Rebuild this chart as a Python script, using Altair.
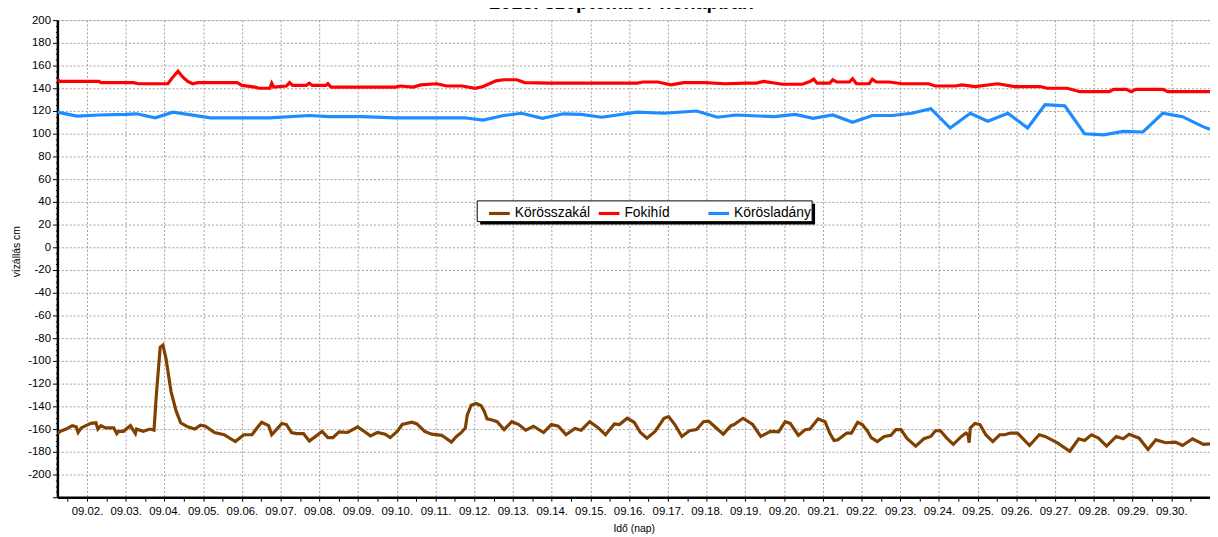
import json
import altair as alt
import pandas as pd

title_text = "2013. szeptember hónapban"
series_names = ["Körösszakál", "Fokihíd", "Körösladány"]
series_colors = ["#804000", "#ff0000", "#1e8cff"]

day_labels = ["09.02.", "09.03.", "09.04.", "09.05.", "09.06.", "09.07.", "09.08.",
              "09.09.", "09.10.", "09.11.", "09.12.", "09.13.", "09.14.", "09.15.",
              "09.16.", "09.17.", "09.18.", "09.19.", "09.20.", "09.21.", "09.22.",
              "09.23.", "09.24.", "09.25.", "09.26.", "09.27.", "09.28.", "09.29.",
              "09.30."]

# time in days of September (2.0 = 09.02. 00:00)
koros_t = [1.24, 1.31, 1.46, 1.62, 1.72, 1.77, 1.85, 1.97, 2.10, 2.23,
           2.28, 2.36, 2.48, 2.69, 2.77, 2.82, 2.94, 3.12, 3.25, 3.28,
           3.45, 3.63, 3.73, 3.79, 3.89, 3.96, 4.04, 4.17, 4.30, 4.42,
           4.60, 4.78, 4.93, 5.06, 5.29, 5.54, 5.83, 6.05, 6.26, 6.39,
           6.51, 6.69, 6.77, 6.85, 7.03, 7.15, 7.28, 7.41, 7.59, 7.74,
           7.92, 8.07, 8.22, 8.35, 8.51, 8.73, 8.99, 9.32, 9.50, 9.70,
           9.83, 10.01, 10.14, 10.39, 10.52, 10.72, 10.90, 11.16, 11.41, 11.54,
           11.67, 11.77, 11.82, 11.92, 12.05, 12.18, 12.26, 12.33, 12.46, 12.59,
           12.77, 12.97, 13.15, 13.33, 13.53, 13.79, 13.99, 14.17, 14.37, 14.60,
           14.76, 14.98, 15.19, 15.39, 15.62, 15.75, 15.95, 16.13, 16.29, 16.46,
           16.67, 16.90, 17.02, 17.18, 17.36, 17.56, 17.74, 17.92, 18.05, 18.20,
           18.43, 18.63, 18.71, 18.94, 19.19, 19.40, 19.65, 19.86, 20.03, 20.16,
           20.37, 20.55, 20.67, 20.88, 21.06, 21.18, 21.29, 21.39, 21.62, 21.74,
           21.90, 22.02, 22.15, 22.25, 22.41, 22.59, 22.76, 22.89, 23.02, 23.17,
           23.40, 23.61, 23.79, 23.91, 24.04, 24.19, 24.37, 24.58, 24.70, 24.75,
           24.78, 24.81, 24.93, 25.06, 25.21, 25.39, 25.57, 25.70, 25.85, 26.03,
           26.34, 26.59, 26.74, 27.05, 27.38, 27.61, 27.76, 27.94, 28.12, 28.33,
           28.58, 28.76, 28.91, 29.17, 29.40, 29.60, 29.86, 30.11, 30.29, 30.55,
           30.83, 31.00]
koros_v = [-164, -162, -160, -157, -158, -163, -159, -157, -155, -154.5,
           -160, -157, -159, -159, -164, -162, -162, -157, -164, -160,
           -162, -160, -161, -130, -88, -86, -98, -127, -144, -154.5,
           -158, -160, -156.5, -157.5, -163, -165, -171, -165, -165, -159,
           -154, -157, -165, -162, -155, -156, -163, -164, -164, -170.5,
           -166, -162, -167.5, -167.5, -162.5, -163, -158, -166, -163, -164.5,
           -167.5, -162, -156, -154, -155.5, -162, -164.5, -165.5, -171.5, -166.5,
           -163, -159, -147.5, -139, -137.5, -139.5, -144.5, -151, -152, -153.5,
           -160.5, -153.5, -156, -161, -157.5, -163, -156, -157.5, -165, -159.5,
           -161, -153.5, -158.5, -165, -155.5, -156, -150.5, -154, -163, -168,
           -162, -150.5, -149, -156, -166.5, -161.5, -160.5, -153.5, -153, -157.5,
           -164.5, -157, -156, -150.5, -156, -166.5, -162, -162.5, -153.5, -155,
           -165.5, -160.5, -160, -151, -153.5, -163.5, -170, -169.5, -163.5, -163.5,
           -154, -156, -161.5, -167.5, -171, -166.5, -165.5, -160.5, -160.5, -168,
           -175, -168.5, -166.5, -161.5, -161.5, -167.5, -173.5, -166.5, -163.5, -165,
           -172, -159, -155, -156, -165, -171, -165, -165, -163.5, -163.5,
           -174.5, -165, -166.5, -172, -179.5, -168.5, -170, -165, -168, -175,
           -166.5, -168.5, -164.5, -168, -178, -169.5, -172, -171.5, -174.5, -168.5,
           -173.5, -173]

foki_t = [1.235, 1.29, 2.31, 2.36, 3.20, 3.33, 4.09, 4.22, 4.35, 4.47,
          4.60, 4.73, 4.86, 5.88, 6.00, 6.34, 6.44, 6.72, 6.77, 6.82,
          7.15, 7.23, 7.31, 7.66, 7.74, 7.82, 8.17, 8.22, 8.30, 9.96,
          10.09, 10.42, 10.62, 11.03, 11.29, 11.69, 12.02, 12.23, 12.56, 12.76,
          13.10, 13.30, 13.96, 16.21, 16.36, 16.74, 17.08, 17.41, 17.94, 18.48,
          19.01, 19.29, 19.47, 19.96, 20.47, 20.67, 20.77, 20.85, 21.18, 21.26,
          21.36, 21.69, 21.77, 21.87, 22.20, 22.28, 22.38, 22.71, 23.05, 23.73,
          23.91, 24.42, 24.60, 24.93, 25.52, 25.95, 26.62, 26.79, 27.31, 27.64,
          28.40, 28.51, 28.84, 28.96, 29.09, 29.78, 29.91, 31.00]
foki_v = [148, 146, 146, 145, 145, 144, 144, 150, 155, 150,
          146, 144, 145, 145, 142.5, 141, 140, 140, 144.5, 141,
          142, 145, 142.5, 142.5, 144.5, 142.5, 142.5, 144, 141, 141,
          142, 141, 143, 144, 142, 142, 140, 141.5, 146.5, 147.5,
          147.5, 145, 144.5, 144.5, 145.5, 145.5, 143, 145, 145, 144,
          144.5, 144.5, 146, 143.5, 143.5, 146, 148, 144.5, 144.5, 147.5,
          145.5, 145.5, 148.5, 144, 144, 148, 145.5, 145.5, 144, 144,
          142, 142, 143, 141.5, 144, 141.5, 141.5, 140, 140, 137,
          137, 139, 139, 137, 139, 139, 137, 137]

lad_t = [1.235, 1.74, 2.31, 3.00, 3.28, 3.76, 4.22, 5.19, 6.72, 7.74,
         8.25, 9.12, 9.96, 11.74, 12.23, 12.76, 13.22, 13.76, 14.30, 14.76,
         15.29, 16.21, 16.90, 17.74, 18.28, 18.76, 19.75, 20.29, 20.75, 21.26,
         21.77, 22.28, 22.79, 23.30, 23.79, 24.29, 24.81, 25.26, 25.78, 26.29,
         26.74, 27.25, 27.76, 28.25, 28.76, 29.27, 29.78, 30.29, 30.83, 31.00]
lad_v = [119, 115.5, 116.5, 117, 117.5, 114, 119, 114, 114, 116,
         115, 115, 114, 114, 112, 116, 118, 113.5, 117.5, 117,
         114.5, 119, 118, 120, 114.5, 116.5, 115, 117, 113.5, 116.5,
         110, 116, 116, 118, 122, 105, 118, 111, 118, 105,
         125.5, 124.5, 100, 99, 102, 101.5, 118, 115, 106, 104]

frames = []
for name, ts, vs in zip(series_names, [koros_t, foki_t, lad_t], [koros_v, foki_v, lad_v]):
    frames.append(pd.DataFrame({"t": ts, "v": vs, "series": name}))
df = pd.concat(frames, ignore_index=True)

X_MIN, X_MAX = 1.235, 31.0
Y_MIN, Y_MAX = -220, 200
x_ticks = [i / 2 for i in range(3, 62)]
y_ticks = list(range(-220, 201, 5))
FONT = "Liberation Sans"

x_axis = alt.Axis(
    values=x_ticks,
    labelExpr="datum.value % 1 == 0 ? " + json.dumps(day_labels) + "[datum.value - 2] : ''",
    labelFontSize=11.5, labelColor="black", labelFont=FONT, labelPadding=4,
    tickSize=4, tickColor="black", domainColor="black", domainWidth=2.5,
    grid=True,
    gridColor={"condition": {"test": "datum.value % 1 == 0", "value": "#a0a0a0"},
               "value": "rgba(0,0,0,0)"},
    gridDash=[2, 2], gridWidth=1,
    title="Idő (nap)", titleFontSize=10.5, titleFontWeight="normal", titleColor="black",
    titleFont=FONT, titleY=32, titleBaseline="middle",
)
y_axis = alt.Axis(
    values=y_ticks,
    labelExpr="datum.value % 20 == 0 && datum.value > -220 ? datum.value : ''",
    labelFontSize=11.5, labelColor="black", labelFont=FONT, labelPadding=2,
    tickSize={"condition": {"test": "datum.value % 20 == 0", "value": 5}, "value": 2},
    tickColor="black", domainColor="black", domainWidth=2.5,
    grid=True,
    gridColor={"condition": {"test": "datum.value % 20 == 0", "value": "#a0a0a0"},
               "value": "rgba(0,0,0,0)"},
    gridDash=[2, 2], gridWidth=1,
    title="vízállás cm", titleFontSize=10.5, titleFontWeight="normal", titleColor="black",
    titleFont=FONT, titleX=-41, titleY=234, titleAngle=-90,
    titleAlign="center", titleBaseline="middle",
)

lines = alt.Chart(df).mark_line(strokeWidth=3.2, clip=True).encode(
    x=alt.X("t:Q", scale=alt.Scale(domain=[X_MIN, X_MAX], nice=False, zero=False), axis=x_axis),
    y=alt.Y("v:Q", scale=alt.Scale(domain=[Y_MIN, Y_MAX], nice=False, zero=False), axis=y_axis),
    color=alt.Color(
        "series:N",
        scale=alt.Scale(domain=series_names, range=series_colors),
        legend=alt.Legend(
            orient="none", legendX=435, legendY=183, direction="horizontal", title=None,
            symbolType="stroke", symbolStrokeWidth=3.2, symbolSize=441,
            labelFontSize=14, labelFont=FONT, labelColor="black", labelOffset=3,
            padding=0, columnPadding=0, gridAlign="all",
        ),
    ),
    detail="series:N",
)

dummy = pd.DataFrame({"title": [title_text]})
# legend frame with its drop shadow
shadow = alt.Chart(dummy).mark_rect(color="black").encode(
    x=alt.value(428), x2=alt.value(767), y=alt.value(186), y2=alt.value(207)
)
frame = alt.Chart(dummy).mark_rect(fill="white", stroke="black", strokeWidth=1).encode(
    x=alt.value(425), x2=alt.value(764), y=alt.value(183), y2=alt.value(204)
)
title_layer = alt.Chart(dummy).mark_text(
    font=FONT, fontSize=20, fontWeight="bold", color="black", baseline="alphabetic", align="center"
).encode(text="title:N", x=alt.value(571), y=alt.value(-11))

chart = alt.layer(shadow, frame, lines, title_layer).properties(
    width=1166.8, height=483,
    autosize="none",
    padding={"left": 50, "top": 9, "right": 0, "bottom": 37},
).configure_view(stroke="black", strokeWidth=1).configure(font=FONT)

chart.save("out.html", embed_options={"renderer": "svg", "actions": False})
